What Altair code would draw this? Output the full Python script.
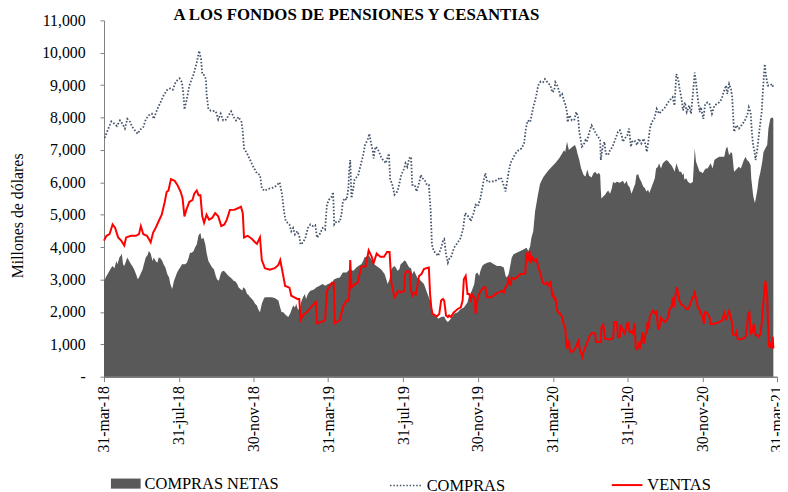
import altair as alt
import pandas as pd

# ---------------- data ----------------
# days counted from 31-mar-2018
compras_dias = [1,6,12,17,21,26,30,34,38,42,46,52,55,58,64,68,73,78,81,87,92,97,103,108,112,117,123,127,130,131,135,139,146,151,155,158,160,163,166,167,170,174,
    176,182,186,190,194,199,203,207,211,215,219,224,226,228,233,238,243,249,254,257,261,268,276,281,286,290,293,296,299,302,305,308,311,315,318,320,324,328,332,336,340,344,347,351,356,
    360,363,366,371,373,375,379,384,387,389,392,395,398,399,401,403,406,408,414,418,422,425,430,432,435,438,439,442,445,449,452,457,459,462,464,466,469,473,475,478,481,484,489,491,494,497,500,502,506,509,513,516,518,522,526,529,532,534,537,542,
    544,549,552,554,557,560,562,565,570,576,581,585,588,591,595,597,602,605,609,613,619,621,624,629,637,646,649,654,656,659,662,666,670,675,680,684,687,690,694,699,704,707,711,715,718,722,
    727,730,733,735,738,741,743,746,749,751,754,755,758,762,766,769,772,774,777,778,781,784,786,789,792,794,797,801,805,808,809,812,815,817,821,824,828,831,835,837,840,843,845,848,852,855,858,860,864,868,871,875,879,882,884,887,889,892,896,900,904,909,
    913,917,921,926,929,932,935,937,940,943,946,949,953,956,959,962,964,967,970,972,976,979,983,986,990,994,998,1002,1006,1009,1013,1015,1018,1021,1023,1026,1030,1034,1038,1042,1045,1048,1050,1053,1055,1057,1059,1061,1064,1067,1071,1073,1076,1078,1081,1085,1088,1090]
compras_vals = [7370,7610,7880,7810,7740,7910,7810,7660,7960,7880,7710,7560,7500,7610,7710,7940,8070,8120,7960,8270,8470,8680,8860,8900,8860,9110,9210,9090,8580,8250,8580,8990,9340,9700,10060,9800,9340,9310,9190,8730,8270,8210,
    8210,8190,7940,8120,7910,7940,8070,8190,8020,7910,8020,7860,7560,7050,6890,6690,6480,6280,6230,5820,5740,5800,5840,5900,6000,5620,5110,4800,4750,4700,4490,4590,4390,4490,4340,4080,4140,4290,4590,4700,4650,4680,4290,4390,4590,
    4540,5310,5460,5560,5700,4700,4800,4780,5050,5410,5510,5460,5820,6330,6690,5510,5820,6080,6230,6530,6840,7150,7350,7500,7200,6940,6740,7100,7050,6890,6740,6640,6590,6790,6890,6080,5970,5620,5670,5720,5970,6230,6430,6590,6480,6740,6790,5920,5920,5720,5970,6230,6130,6080,5920,5920,5110,4080,3880,3780,
    3730,3980,4190,4240,3780,3520,3630,3680,3980,4140,4290,4590,5050,5000,4900,4800,5050,5310,5260,5510,6130,6280,6020,6020,6040,6150,6020,5720,5970,6330,6590,6740,6890,6990,7050,7200,7660,7910,7860,8320,8680,8990,9110,9090,9190,9090,
    8990,8780,8830,9090,8990,8830,8680,8730,8530,8420,8170,7860,8070,7910,7940,8170,8020,7560,7250,7100,7150,7300,7250,7450,7660,7760,7660,7500,7400,7300,6690,7100,7250,6890,6840,6990,7100,7250,7450,7560,7610,7450,7250,7350,7450,7660,7100,7250,7300,7150,7350,7200,7350,7150,6940,7350,7660,7860,7960,8270,8120,8220,
    8300,8420,8530,8630,8370,9340,9190,8930,8630,8220,8470,8170,8370,8120,8730,9390,9090,8580,8170,8320,7960,8420,8470,8420,8120,8370,8420,8470,8580,8780,8990,8730,9040,8880,8630,7560,7760,7660,7760,7860,7960,8120,8320,8170,7560,7150,6990,6690,7050,7560,8170,8830,9650,9290,8990,8990,9040,8930]

ventas_dias = [0,4,9,14,18,23,28,33,36,44,52,57,60,64,70,76,80,83,89,94,99,102,105,109,115,120,125,128,131,134,139,144,147,151,154,157,160,163,167,171,
    176,181,186,191,196,200,205,212,218,223,226,228,234,241,246,249,254,257,262,270,278,284,287,291,295,302,305,310,315,318,320,324,331,337,345,347,355,360,363,371,
    374,376,384,390,395,399,401,403,408,413,419,426,431,436,439,444,450,456,461,465,468,473,475,479,483,489,490,494,498,500,502,505,508,513,517,521,525,529,531,533,535,542,
    546,549,552,554,557,560,562,565,568,570,573,576,581,584,586,589,592,595,597,599,602,604,605,607,609,612,616,619,621,624,629,635,637,643,648,651,654,656,659,662,664,668,672,678,682,686,688,691,693,695,698,700,704,707,711,714,718,721,723,726,
    727,729,730,731,734,735,738,741,743,746,749,751,753,754,757,759,762,765,767,770,773,774,776,779,781,784,786,789,792,796,800,801,805,809,810,813,815,816,818,823,826,829,831,835,837,840,841,845,848,852,853,856,859,861,864,866,868,871,873,875,877,879,882,884,885,887,889,891,894,896,898,900,902,904,907,910,
    913,916,919,921,924,926,928,929,931,933,935,937,940,943,946,948,951,954,956,958,960,962,963,965,967,970,972,975,977,978,980,983,986,988,991,997,1002,1007,1010,1013,1015,1018,1020,1022,1024,1028,1030,1032,1035,1039,1044,1046,1048,1049,1051,1053,1056,1058,1061,1064,1066,1069,1071,1073,1075,1077,1078,1080,1081,1083,1085,1087,1089,1090]
ventas_vals = [4200,4350,4400,4700,4600,4300,4200,4050,4300,4350,4350,4400,4650,4400,4350,4150,4450,4550,4800,5000,5400,5700,5750,6100,6050,5900,5700,5500,4950,5150,5400,5450,5650,5750,5600,5600,4950,4750,5000,4850,
    4900,5050,4950,4650,4700,4850,5150,5150,5200,5250,5050,4300,4350,4250,4150,4100,4300,3600,3350,3300,3350,3450,3600,3200,2800,2750,2500,2450,2400,2400,1750,1900,2000,2150,2300,1650,1700,1750,2650,2900,
    2900,1650,1750,2200,2350,2350,3600,2750,2850,2900,3400,3400,3900,3700,3500,3800,3700,3700,3850,3850,2900,2450,2500,2650,2600,2650,3170,3270,3220,2650,2500,2600,2550,3110,3170,3320,3350,3370,2550,2140,1940,1860,
    1940,2350,2400,2350,1890,1840,1890,1840,1940,1990,2040,2090,2140,2350,3010,3110,2550,2550,2300,2550,2450,2400,1940,2250,2450,2600,2710,2760,2760,2450,2450,2500,2550,2600,2650,2600,2760,2810,3010,2810,3060,3010,3060,3170,3170,3190,3830,3570,3880,3570,3680,3570,3630,3420,3170,2910,2860,2910,2810,2910,
    2960,2660,2450,2550,2400,2450,2040,1960,1940,1840,1580,1530,970,870,1120,770,770,820,870,970,1170,920,770,610,770,920,1020,1170,1310,1350,1330,1070,1070,1070,1530,1610,1330,1170,1170,1140,1170,1180,1690,1690,1210,1230,1610,1430,1330,1630,1690,1380,1380,1330,1650,870,840,1020,920,1070,1380,1020,1330,1380,1690,1480,1890,1940,2040,1990,1940,2040,1480,1480,1820,1740,
    1690,1740,1840,2090,2140,2450,2140,2350,2550,2760,2550,2350,2230,2200,2140,2090,2090,2200,2300,2450,2450,2660,2500,2350,2140,2060,1940,1840,1630,1990,1990,1940,1840,1630,1630,1650,1690,1740,1960,1740,1890,2040,1840,1740,1310,1280,1380,1170,1140,1170,1200,1330,1740,1940,1990,1330,1380,1630,1280,1280,1230,1330,1630,2140,2550,2960,2760,2450,1790,970,1020,870,1230,870]

netas_dias = [0,4,6,9,12,14,17,20,22,25,28,29,31,33,36,38,41,44,46,49,52,55,57,60,63,65,68,71,73,76,79,81,84,87,89,92,95,97,100,103,106,108,111,114,116,119,122,124,127,130,132,135,138,140,143,146,148,151,154,157,159,162,165,167,170,173,
    176,179,182,184,187,190,192,195,198,200,203,206,209,211,214,217,219,222,225,227,230,233,235,238,241,243,246,249,251,254,257,260,262,268,273,278,284,286,289,292,294,297,300,303,305,308,311,313,316,319,321,324,327,329,332,335,337,340,343,346,348,351,353,356,
    360,365,371,375,379,384,389,395,400,406,411,414,419,422,424,427,430,432,435,440,446,451,457,462,465,467,470,473,475,478,481,483,486,489,491,494,497,500,502,505,510,516,521,526,532,534,537,542,
    544,549,554,557,560,565,570,576,581,586,592,594,597,600,603,605,608,611,613,616,619,624,629,635,640,646,651,654,656,659,662,664,667,672,678,683,688,691,694,696,699,
    702,706,710,715,720,725,730,735,741,746,749,751,754,757,760,763,767,769,771,774,777,781,784,787,790,794,797,800,803,806,808,809,810,813,816,818,821,824,827,829,832,835,840,845,848,851,853,856,859,862,865,867,870,872,875,878,881,883,886,888,891,894,897,899,902,904,907,910,
    913,916,919,921,924,927,929,931,932,935,937,940,942,944,945,948,951,954,956,959,962,963,964,967,970,972,975,978,980,983,986,988,991,994,997,1002,1007,1010,1013,1015,1018,1021,1023,1026,1029,1031,1034,1037,1039,1042,1045,1047,1050,1053,1054,1057,1058,1060,1062,1064,1066,1069,1072,1074,1077,1080,1082,1085,1088,1090]
netas_vals = [2950,3110,3170,3270,3370,3420,3350,3570,3470,3680,3760,3800,3470,3420,3570,3680,3570,3470,3420,3320,3170,3010,3060,3190,3320,3470,3680,3760,3880,3800,3570,3680,3570,3520,3680,3660,3570,3470,3370,3170,3060,2860,2710,2960,3060,3220,3320,3370,3470,3470,3470,3520,3680,3830,3830,3880,3980,4080,4370,4440,4240,4290,4080,3830,3570,3470,
    3370,3320,3110,3010,2960,3170,3250,3270,3220,3170,3110,3060,3010,2960,2940,2860,2760,2710,2660,2760,2710,2550,2530,2450,2400,2350,2250,2200,2090,1990,2250,2400,2450,2450,2450,2430,2350,2200,2000,1990,1940,1890,1840,1940,2040,2200,2140,2250,2060,2140,2300,2450,2550,2400,2550,2630,2660,2680,2710,2760,2780,2810,2830,2860,
    2810,2860,2910,3010,3040,3060,3220,3220,3320,3270,3370,3420,3470,3570,3680,3700,3760,3730,3630,3470,3390,3320,3170,2860,3010,3270,3370,3420,3370,3270,3320,3470,3520,3590,3570,3470,3370,3350,3170,3270,3060,2960,2860,2600,2300,2040,1890,1840,
    1790,1840,1860,1740,1690,1790,1940,1990,2090,2140,2300,2450,2550,2710,2860,3170,3220,3110,3270,3420,3470,3520,3540,3470,3420,3420,3370,3110,3060,3170,3470,3680,3780,3830,3880,3930,3980,3880,4030,4290,4490,
    5100,5550,5950,6150,6280,6400,6500,6600,6740,6890,6990,6940,7250,7000,7050,7100,7150,7050,6890,6690,6430,6230,6180,6400,6200,6150,6280,6330,6250,6300,6230,5770,5500,5560,5620,5680,5750,5650,5820,6020,5970,6020,5990,6050,5950,6050,5920,5850,5650,5800,5950,6230,6250,6130,6020,5870,5820,5720,5770,5670,5820,5970,6130,6430,6480,6590,6430,6590,
    6640,6690,6640,6590,6530,6430,6330,6480,6590,6430,6330,6330,6230,6280,6080,6130,6020,5970,5970,6020,7050,6840,6640,6480,6330,6330,6280,6380,6430,6430,6530,6590,6430,6690,6740,6790,6790,6790,7050,7100,6840,6940,6890,6330,6380,6430,6480,6430,6530,6690,6790,6690,6640,6530,6130,5620,5510,5360,5560,5770,6080,6330,6640,6940,7050,7150,7660,7960,8010,7960]

series = ["COMPRAS NETAS", "COMPRAS", "VENTAS"]
colores = ["#595959", "#44546a", "#ff0000"]
tick_fechas = ["2018-03-31", "2018-07-31", "2018-11-30", "2019-03-31", "2019-07-31",
               "2019-11-30", "2020-03-31", "2020-07-31", "2020-11-30", "2021-03-31"]
meses = ["ene", "feb", "mar", "abr", "may", "jun", "jul", "ago", "sep", "oct", "nov", "dic"]
titulo = "A LOS FONDOS DE PENSIONES Y CESANTÍAS"
eje_y = "Millones de dólares"

# ---------------- build tables ----------------
inicio = pd.Timestamp("2018-03-31")


def tabla(dias, vals, nombre):
    fechas = [(inicio + pd.Timedelta(days=int(d))).strftime("%Y-%m-%d") for d in dias]
    return pd.DataFrame({"fecha": fechas, "valor": vals, "serie": nombre})


df_netas = tabla(netas_dias, netas_vals, series[0])
df_compras = tabla(compras_dias, compras_vals, series[1])
df_ventas = tabla(ventas_dias, ventas_vals, series[2])

ms = lambda s: int(pd.Timestamp(s).value // 10**6)
tick_ms = [ms(s) for s in tick_fechas]

FONT = "Liberation Serif"
meses_js = "[" + ",".join("'%s'" % m for m in meses) + "]"
x_label_expr = ("utcFormat(datum.value, '%d') + '-' + " + meses_js +
                "[utcmonth(datum.value)] + '-' + utcFormat(datum.value, '%y')")


def enc_x():
    return alt.X(
        "fecha:T",
        scale=alt.Scale(type="utc", domain=[tick_ms[0], tick_ms[-1]]),
        axis=alt.Axis(
            values=tick_ms, labelExpr=x_label_expr, labelAngle=-90,
            labelFont=FONT, labelFontSize=16, labelColor="black",
            labelPadding=4, tickSize=5, tickColor="#7f7f7f",
            domainColor="#7f7f7f", domainWidth=1.5, grid=False, title=None,
            labelOverlap=False, labelBound=False, labelFlush=False,
        ),
    )


def enc_y():
    return alt.Y(
        "valor:Q",
        scale=alt.Scale(domain=[0, 11000], nice=False, zero=True),
        axis=alt.Axis(
            values=list(range(0, 11001, 1000)),
            labelExpr="datum.value == 0 ? '-' : format(datum.value, ',')",
            labelFont=FONT, labelFontSize=16, labelColor="black",
            labelPadding=15, tickSize=4, tickColor="#7f7f7f",
            domainColor="#7f7f7f", domainWidth=1, grid=False,
            title=eje_y, titleFont=FONT, titleFontSize=16, titleFontWeight="normal",
            titleColor="black", titleAngle=-90, titleX=-87, titleY=197,
            titleAlign="center", titleBaseline="middle",
        ),
    )


leg_common = dict(orient="none", title=None, labelFont=FONT, labelFontSize=16.6,
                  labelColor="black", padding=0, labelOffset=4, labelLimit=400)
LEG_Y = 453

area = alt.Chart(df_netas).mark_area(opacity=1).encode(
    x=enc_x(), y=enc_y(),
    fill=alt.Fill("serie:N",
                  scale=alt.Scale(domain=[series[0]], range=[colores[0]]),
                  legend=alt.Legend(legendX=7, legendY=LEG_Y,
                                    symbolType="M-1,-0.34H1V0.34H-1Z", symbolSize=900,
                                    symbolFillColor=colores[0],
                                    symbolStrokeWidth=0, symbolOpacity=1, **leg_common)),
)

ventas = alt.Chart(df_ventas).mark_line(strokeWidth=2).encode(
    x=enc_x(), y=enc_y(),
    stroke=alt.Stroke("serie:N",
                      scale=alt.Scale(domain=[series[2]], range=[colores[2]]),
                      legend=alt.Legend(legendX=512, legendY=LEG_Y, symbolType="stroke",
                                        symbolSize=961, symbolStrokeWidth=2,
                                        symbolStrokeColor=colores[2], **leg_common)),
)

compras = alt.Chart(df_compras).mark_line(strokeWidth=1.8, strokeDash=[1.6, 1.8]).encode(
    x=enc_x(), y=enc_y(),
    stroke=alt.Stroke("serie:N",
                      scale=alt.Scale(domain=[series[1]], range=[colores[1]]),
                      legend=alt.Legend(legendX=288, legendY=LEG_Y, symbolType="stroke",
                                        symbolSize=1024, symbolStrokeWidth=1.5,
                                        symbolStrokeColor=colores[1],
                                        symbolDash=[1.5, 1.8], **leg_common)),
)

chart = alt.layer(area, ventas, compras).resolve_scale(
    stroke="independent", fill="independent"
).resolve_legend(
    stroke="independent", fill="independent"
).properties(
    width=680, height=360,
    padding={"left": 97, "top": 10, "right": 3, "bottom": 116},
    autosize=alt.AutoSizeParams(type="none"),
    title=alt.TitleParams(titulo, font=FONT, fontSize=17, fontWeight="bold",
                          color="black", anchor="middle", dx=-85, offset=-12),
).configure_view(stroke=None)

chart.save("out.html", embed_options={"renderer": "svg", "actions": False})
